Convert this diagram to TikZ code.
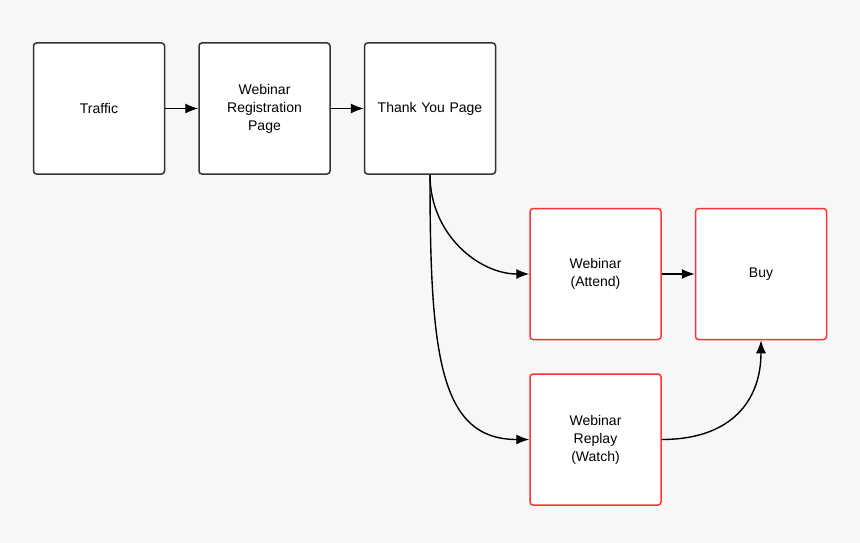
\documentclass[tikz,border=0pt]{standalone}
\usepackage{fontspec}
\setmainfont{Liberation Sans}
\usetikzlibrary{positioning,arrows.meta}
\definecolor{bgcol}{HTML}{F7F7F7}
\definecolor{boxline}{HTML}{333333}
\definecolor{redline}{HTML}{FF3333}

\begin{document}
\begin{tikzpicture}[x=1pt,y=-1pt,
    stagebox/.style={draw=boxline,fill=white,line width=1.5pt,rounded corners=3pt,
        minimum width=131pt,minimum height=131pt,align=center,text width=120pt,
        font=\fontsize{14}{18}\selectfont},
    redbox/.style={stagebox,draw=redline},
    flow/.style={line width=1.4pt,-{Latex[length=13pt,width=10pt]}}]
                \fill[bgcol] (0,0) rectangle (860,543);
                \useasboundingbox (0,0) rectangle (860,543);
                % top row
                \node[stagebox] (traffic) at (99,108.5) {Traffic};
                \node[stagebox,right=33pt of traffic] (reg) {Webinar\\Registration\\Page};
                \node[stagebox,right=33pt of reg] (thanks) {Thank You Page};
                % red boxes
                \node[redbox,below right=33pt and 33pt of thanks] (attend) {Webinar\\(Attend)};
                \node[redbox,right=33pt of attend] (buy) {Buy};
                \node[redbox,below=33pt of attend] (replay) {Webinar\\Replay\\(Watch)};
                \draw[flow] (traffic) -- (reg);
                \draw[flow] (reg) -- (thanks);
                \draw[flow] (thanks.south) .. controls +(0,60) and +(-50,0) .. (attend.west);
                \draw[flow] (thanks.south) .. controls +(0,180) and +(-90,0) .. (replay.west);
                \draw[flow] (attend) -- (buy);
                \draw[flow] (replay.east) .. controls +(70,0) and +(0,60) .. (buy.south);
            \end{tikzpicture}
\end{document}
